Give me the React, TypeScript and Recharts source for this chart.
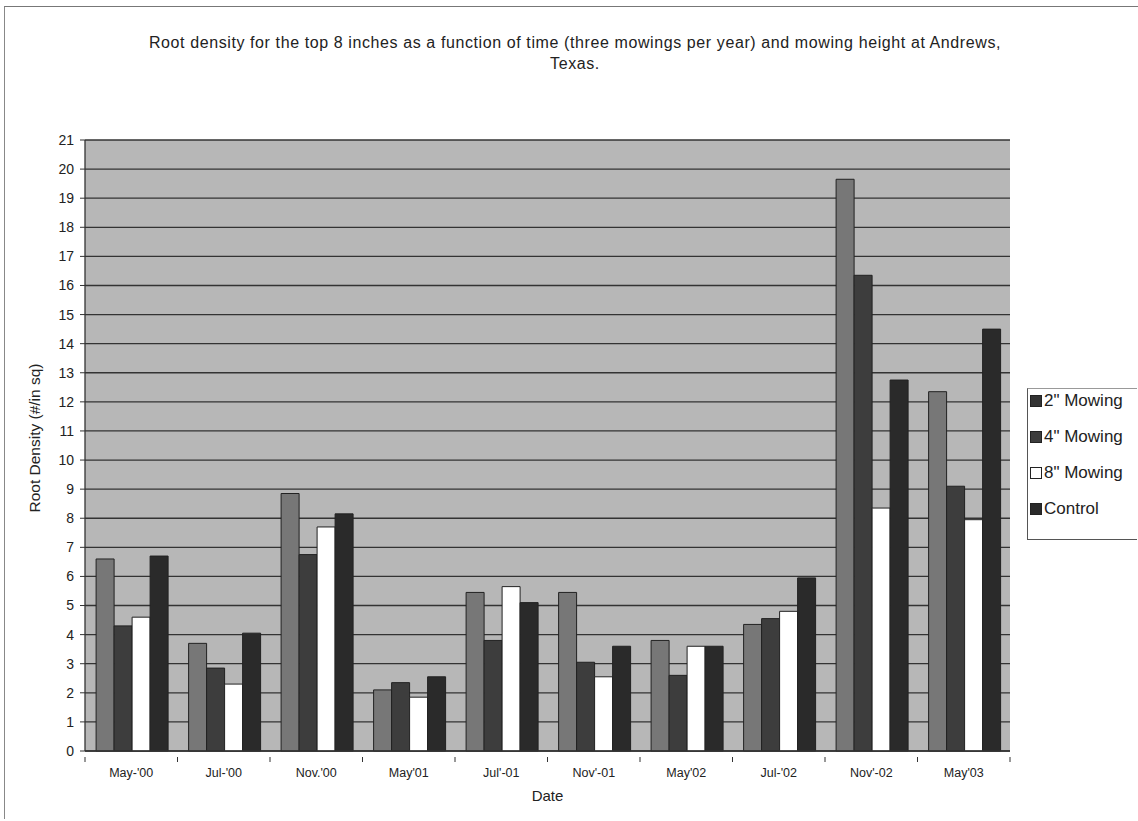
import React from 'react';
import { BarChart, Bar, XAxis, YAxis, CartesianGrid } from 'recharts';

const dates = ["May-'00", "Jul-'00", "Nov.'00", "May'01", "Jul'-01", "Nov'-01", "May'02", "Jul-'02", "Nov'-02", "May'03"];
const mow2 = [6.6, 3.7, 8.85, 2.1, 5.45, 5.45, 3.8, 4.35, 19.65, 12.35];
const mow4 = [4.3, 2.85, 6.75, 2.35, 3.8, 3.05, 2.6, 4.55, 16.35, 9.1];
const mow8 = [4.6, 2.3, 7.7, 1.85, 5.65, 2.55, 3.6, 4.8, 8.35, 7.95];
const control = [6.7, 4.05, 8.15, 2.55, 5.1, 3.6, 3.6, 5.95, 12.75, 14.5];
const yTicks = [0, 1, 2, 3, 4, 5, 6, 7, 8, 9, 10, 11, 12, 13, 14, 15, 16, 17, 18, 19, 20, 21];

const series = [
  { key: 'mow2', name: '2" Mowing', color: '#777777', swatch: '#333333' },
  { key: 'mow4', name: '4" Mowing', color: '#3d3d3d', swatch: '#3d3d3d' },
  { key: 'mow8', name: '8" Mowing', color: '#ffffff', swatch: '#ffffff' },
  { key: 'control', name: 'Control', color: '#2a2a2a', swatch: '#2a2a2a' },
];

const data = dates.map((d, i) => ({
  date: d,
  mow2: mow2[i],
  mow4: mow4[i],
  mow8: mow8[i],
  control: control[i],
}));

const font = 'Arial, "Liberation Sans", sans-serif';

// date label plus the tick marks between categories, like the old excel axis
function DateTick(props: any) {
  const { x, y, payload, index } = props;
  const half = payload?.offset ?? 0;
  const axisY = y - 11;
  return (
    <g>
      <line x1={x - half} x2={x - half} y1={axisY} y2={axisY + 5} stroke="#333" />
      {index === dates.length - 1 && <line x1={x + half} x2={x + half} y1={axisY} y2={axisY + 5} stroke="#333" />}
      <text x={x} y={y} dy="0.71em" textAnchor="middle" fill="#222" fontSize={12.5} fontFamily={font}>
        {payload.value}
      </text>
    </g>
  );
}

export default function App() {
  return (
    <div style={{ position: 'absolute', left: 0, top: 0, width: 1138, height: 821, background: '#fff', fontFamily: font }}>
      <div style={{ position: 'absolute', left: 4, top: 6, width: 1134, height: 812, borderLeft: '1px solid #888', borderTop: '1px solid #777' }} />
      <div
        style={{
          position: 'absolute',
          left: 70,
          top: 32,
          width: 1010,
          textAlign: 'center',
          fontSize: 16,
          letterSpacing: 0.6,
          lineHeight: '21px',
          color: '#222',
        }}
      >
        Root density for the top 8 inches as a function of time (three mowings per year) and mowing height at Andrews,
        <br />
        Texas.
      </div>
      <div
        style={{
          position: 'absolute',
          left: 35,
          top: 438,
          transform: 'translate(-50%, -50%) rotate(-90deg)',
          whiteSpace: 'nowrap',
          fontSize: 15.5,
          color: '#222',
        }}
      >
        Root Density (#/in sq)
      </div>
      <div style={{ position: 'absolute', left: 0, top: 787, width: 1095, textAlign: 'center', fontSize: 15, color: '#222' }}>Date</div>

      <BarChart
        width={1138}
        height={821}
        data={data}
        margin={{ top: 140, right: 128, bottom: 0, left: 30 }}
        barCategoryGap="12%"
        barGap={0}
        style={{ position: 'absolute', left: 0, top: 0 }}
      >
        <CartesianGrid vertical={false} fill="#b7b7b7" stroke="#333" strokeWidth={1.3} fillOpacity={1} />
        <XAxis
          dataKey="date"
          height={70}
          tickLine={false}
          axisLine={{ stroke: '#333', strokeWidth: 1.3 }}
          tick={DateTick}
          tickMargin={11}
          interval={0}
        />
        <YAxis
          width={55}
          domain={[0, 21]}
          ticks={yTicks}
          interval={0}
          tickLine={{ stroke: '#333' }}
          tickSize={5}
          tickMargin={6}
          axisLine={{ stroke: '#333', strokeWidth: 1.3 }}
          tick={{ fill: '#222', fontSize: 14, fontFamily: font }}
        />
        {series.map((s) => (
          <Bar key={s.key} dataKey={s.key} name={s.name} fill={s.color} stroke="#222" strokeWidth={1} isAnimationActive={false} />
        ))}
      </BarChart>

      <div
        style={{
          position: 'absolute',
          left: 1027,
          top: 388,
          width: 110,
          height: 152,
          background: '#fff',
          borderLeft: '1px solid #555',
          borderBottom: '1px solid #555',
          borderTop: '1px solid #999',
          boxSizing: 'border-box',
        }}
      >
        {series.map((s, i) => (
          <div
            key={s.key}
            style={{
              position: 'absolute',
              left: 2,
              top: 2 + i * 36,
              display: 'flex',
              alignItems: 'center',
              fontSize: 17,
              color: '#222',
              whiteSpace: 'nowrap',
            }}
          >
            <span
              style={{
                display: 'inline-block',
                width: 10,
                height: 10,
                background: s.swatch,
                border: '1px solid #222',
                marginRight: 2,
              }}
            />
            {s.name}
          </div>
        ))}
      </div>
    </div>
  );
}
